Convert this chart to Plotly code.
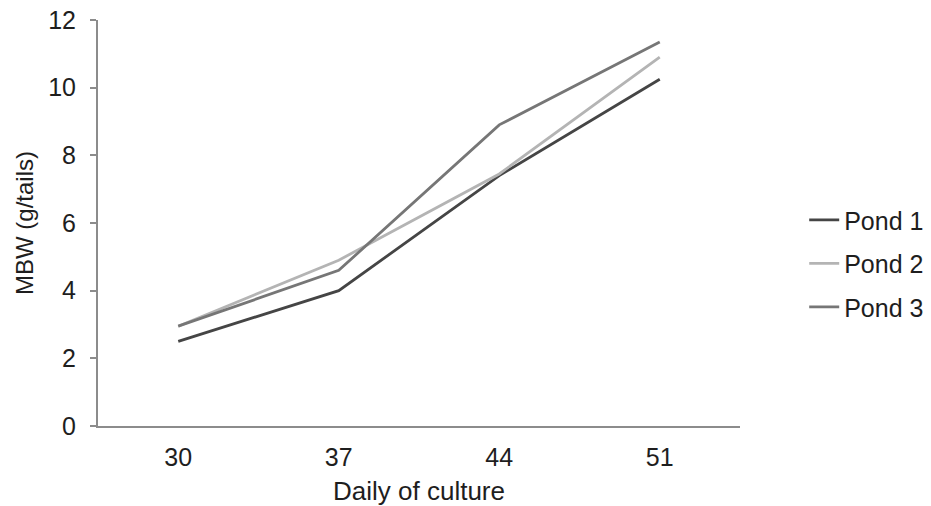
import plotly.graph_objects as go

days = ["30", "37", "44", "51"]
pond1 = [2.5, 4.0, 7.4, 10.25]
pond2 = [2.95, 4.9, 7.45, 10.9]
pond3 = [2.95, 4.6, 8.9, 11.35]
series_names = ["Pond 1", "Pond 2", "Pond 3"]
y_ticks = [0, 2, 4, 6, 8, 10, 12]

colors = ["#454545", "#b4b4b4", "#767676"]
FONT = "Liberation Sans, Arial, sans-serif"

fig = go.Figure()
for i, (name, vals) in enumerate(zip(series_names, [pond1, pond2, pond3])):
    fig.add_trace(go.Scatter(
        x=days, y=vals, mode="lines", name=name, legendgroup=name,
        line=dict(color=colors[i], width=2.8),
    ))

fig.update_layout(
    width=931, height=506,
    margin=dict(l=98, r=191, t=20, b=80, autoexpand=False),
    paper_bgcolor="white", plot_bgcolor="white",
    font=dict(family=FONT, size=25, color="#1e1e1e"),
    showlegend=True,
    legend=dict(
        x=1.10, xanchor="left", y=0.40, yanchor="middle",
        font=dict(size=25, color="#1e1e1e"),
        tracegroupgap=8, bgcolor="rgba(0,0,0,0)",
    ),
    xaxis=dict(
        type="category", range=[-0.5, 3.5],
        showgrid=False, zeroline=False,
        showline=True, linecolor="#8c8c8c", linewidth=2,
        ticks="", ticklabelstandoff=8,
        title=dict(text="Daily of culture", standoff=14, font=dict(size=26)),
    ),
    yaxis=dict(
        range=[0, 12], tickvals=y_ticks,
        showgrid=False, zeroline=False,
        showline=True, linecolor="#8c8c8c", linewidth=2,
        ticks="outside", ticklen=6, tickcolor="#8c8c8c", tickwidth=1.5,
        ticklabelstandoff=9,
        title=dict(text="MBW (g/tails)", standoff=8, font=dict(size=24)),
    ),
)

# remove the browser's default 8px page margin so the figure fills the window
fig.write_html("out.html",
               config={"displayModeBar": False},
               post_script="document.body.style.margin='0';document.body.style.overflow='hidden';")
